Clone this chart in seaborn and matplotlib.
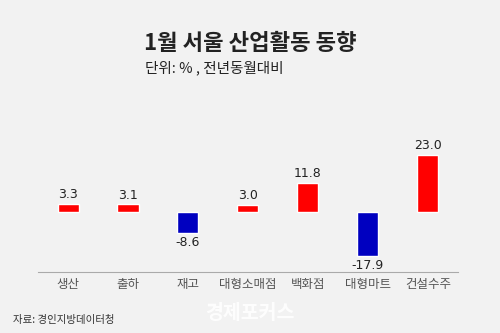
import matplotlib
matplotlib.use("Agg")
import matplotlib.pyplot as plt
import seaborn as sns
import pandas as pd

categories = ["생산", "출하", "재고", "대형소매점", "백화점", "대형마트", "건설수주"]
values = [3.3, 3.1, -8.6, 3.0, 11.8, -17.9, 23.0]
value_labels = ["3.3", "3.1", "-8.6", "3.0", "11.8", "-17.9", "23.0"]

title = "1월 서울 산업활동 동향"
subtitle = "단위: % , 전년동월대비"
source = "자료: 경인지방데이터청"
watermark = "경제포커스"

sns.set_theme(style="white")
plt.rcParams['font.family'] = ['Noto Sans CJK KR', 'DejaVu Sans']

bg = "#f2f2f2"
fig = plt.figure(figsize=(5, 3.33), dpi=100, facecolor=bg)
ax = fig.add_axes([0.076, 0.183, 0.84, 0.404])
ax.set_facecolor(bg)

df = pd.DataFrame({"cat": categories, "val": values})
colors = ["#ff0000" if v >= 0 else "#0000c0" for v in values]
sns.barplot(data=df, x="cat", y="val", hue="cat", palette=colors, legend=False,
            width=0.35, ax=ax, saturation=1)

for i, (v, lab) in enumerate(zip(values, value_labels)):
    if v >= 0:
        ax.annotate(lab, (i, v), xytext=(0, 2), textcoords="offset points",
                    ha="center", va="bottom", fontsize=9, color="#222222",
                    family=['DejaVu Sans'])
    else:
        ax.annotate(lab, (i, v), xytext=(0, -2), textcoords="offset points",
                    ha="center", va="top", fontsize=9, color="#222222",
                    family=['DejaVu Sans'])

ax.set_xlim(-0.5, 6.5)
ax.set_ylim(-24.2, 30)
ax.set_xlabel("")
ax.set_ylabel("")
ax.set_yticks([])
ax.tick_params(axis="x", length=0, pad=4, labelsize=9, labelcolor="#555555")
for s in ["top", "left", "right"]:
    ax.spines[s].set_visible(False)
ax.spines["bottom"].set_color("#aaaaaa")
ax.spines["bottom"].set_linewidth(0.8)

fig.text(0.5, 0.87, title, ha="center", va="center", fontsize=16,
         fontweight="bold", color="#222222")
fig.text(0.29, 0.797, subtitle, ha="left", va="center", fontsize=10.5,
         color="#222222")
fig.text(0.026, 0.04, source, ha="left", va="center", fontsize=7.5,
         color="#333333")
fig.text(0.5, 0.06, watermark, ha="center", va="center", fontsize=14,
         fontweight="bold", color="white", alpha=0.9)

fig.savefig("out.png", dpi=100, facecolor=bg)
